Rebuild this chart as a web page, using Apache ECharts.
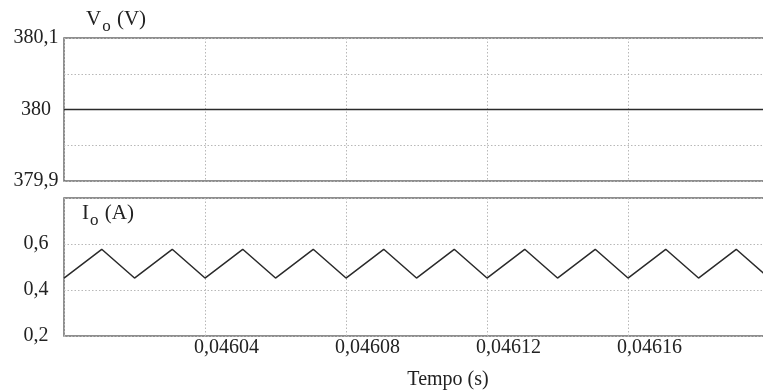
<!DOCTYPE html>
<html>
<head>
<meta charset="utf-8">
<script src="https://cdn.jsdelivr.net/npm/echarts@6.0.0/dist/echarts.min.js"></script>
<style>
  html, body { margin: 0; padding: 0; background: #fff; }
  #chart { width: 763px; height: 392px; }
</style>
</head>
<body>
<div id="chart"></div>
<script>
  const timeTicks = [0.04604, 0.04608, 0.04612, 0.04616];
  const voltageTime = [0.046, 0.0462];
  const voltageValues = [380, 380];
  // triangle vertices of the output current (valleys and peaks)
  const currentTime = [
    0.046, 0.0460107, 0.04602, 0.0460307, 0.04604, 0.0460507, 0.04606,
    0.0460707, 0.04608, 0.0460907, 0.0461, 0.0461107, 0.04612, 0.0461307,
    0.04614, 0.0461507, 0.04616, 0.0461707, 0.04618, 0.0461907, 0.0462
  ];
  const currentValues = [
    0.452, 0.577, 0.452, 0.577, 0.452, 0.577, 0.452,
    0.577, 0.452, 0.577, 0.452, 0.577, 0.452, 0.577,
    0.452, 0.577, 0.452, 0.577, 0.452, 0.577, 0.452
  ];
  const voltageLabels = [379.9, 380, 380.1];
  const currentLabels = [0.2, 0.4, 0.6];

  const FONT = '"Liberation Serif", "DejaVu Serif", serif';
  const INK = '#222';

  function comma(v, digits) {
    return v.toFixed(digits).replace('.', ',');
  }
  function near(v, list, eps) {
    return list.some(t => Math.abs(t - v) < eps);
  }

  const chart = echarts.init(document.getElementById('chart'), null, { renderer: 'canvas' });

  // plot area runs past the right edge of the capture, so width is fixed
  const gridBase = {
    left: 64, width: 705, outerBoundsMode: 'none', containLabel: false,
    show: true, borderColor: '#6a6a6a', borderWidth: 1.5, backgroundColor: '#fff'
  };
  const splitDotted = { show: true, lineStyle: { color: '#b8b8b8', type: [1.5, 2], width: 1 } };

  const richTitle = {
    a: { fontFamily: FONT, fontSize: 21, fontWeight: 'normal', color: INK, lineHeight: 26, verticalAlign: 'top' },
    s: { fontFamily: FONT, fontSize: 17, fontWeight: 'normal', color: INK, lineHeight: 26, verticalAlign: 'bottom', padding: [16, 1, 0, 1] }
  };

  function xAxisFor(gridIndex, showLabels) {
    return {
      type: 'value', gridIndex: gridIndex,
      min: 0.046, max: 0.0462, interval: 0.00004,
      axisLine: { show: false }, axisTick: { show: false },
      splitLine: splitDotted,
      axisLabel: {
        show: showLabels, fontFamily: FONT, fontSize: 20, color: INK, margin: 2,
        align: 'left', padding: [0, 0, 0, -11],
        formatter: v => near(v, timeTicks, 1e-9) ? comma(v, 5) : ''
      },
      name: showLabels ? 'Tempo (s)' : '',
      nameLocation: 'middle', nameGap: 34,
      nameTextStyle: { fontFamily: FONT, fontSize: 20, color: INK, padding: [0, 0, 0, 63] }
    };
  }

  const option = {
    animation: false,
    backgroundColor: '#fff',
    title: [
      { left: 81, top: 4, text: '{a|V}{s|o}{a| (V)}', textStyle: { rich: richTitle } },
      { left: 77, top: 198, text: '{a|I}{s|o}{a| (A)}', textStyle: { rich: richTitle } }
    ],
    grid: [
      Object.assign({ top: 38, height: 143 }, gridBase),
      Object.assign({ top: 198, height: 138 }, gridBase)
    ],
    xAxis: [xAxisFor(0, false), xAxisFor(1, true)],
    yAxis: [
      {
        type: 'value', gridIndex: 0,
        min: 379.9, max: 380.1, interval: 0.05,
        axisLine: { show: false }, axisTick: { show: false },
        splitLine: splitDotted,
        axisLabel: {
          fontFamily: FONT, fontSize: 20, color: INK, margin: 28, align: 'center',
          padding: [0, 0, 5, 0],
          formatter: v => {
            const hit = voltageLabels.find(t => Math.abs(t - v) < 1e-6);
            if (hit === undefined) return '';
            return Math.abs(hit - Math.round(hit)) < 1e-6 ? String(Math.round(hit)) : comma(hit, 1);
          }
        }
      },
      {
        type: 'value', gridIndex: 1,
        min: 0.2, max: 0.8, interval: 0.2,
        axisLine: { show: false }, axisTick: { show: false },
        splitLine: splitDotted,
        axisLabel: {
          fontFamily: FONT, fontSize: 20, color: INK, margin: 28, align: 'center',
          padding: [0, 0, 3, 0],
          formatter: v => near(v, currentLabels, 1e-6) ? comma(v, 1) : ''
        }
      }
    ],
    series: [
      {
        type: 'line', xAxisIndex: 0, yAxisIndex: 0,
        data: voltageTime.map((t, i) => [t, voltageValues[i]]),
        showSymbol: false, lineStyle: { color: '#2a2a2a', width: 1.5 }, z: 5
      },
      {
        type: 'line', xAxisIndex: 1, yAxisIndex: 1,
        data: currentTime.map((t, i) => [t, currentValues[i]]),
        showSymbol: false, lineStyle: { color: '#2a2a2a', width: 1.5 }, z: 5
      }
    ]
  };

  chart.setOption(option);
</script>
</body>
</html>
